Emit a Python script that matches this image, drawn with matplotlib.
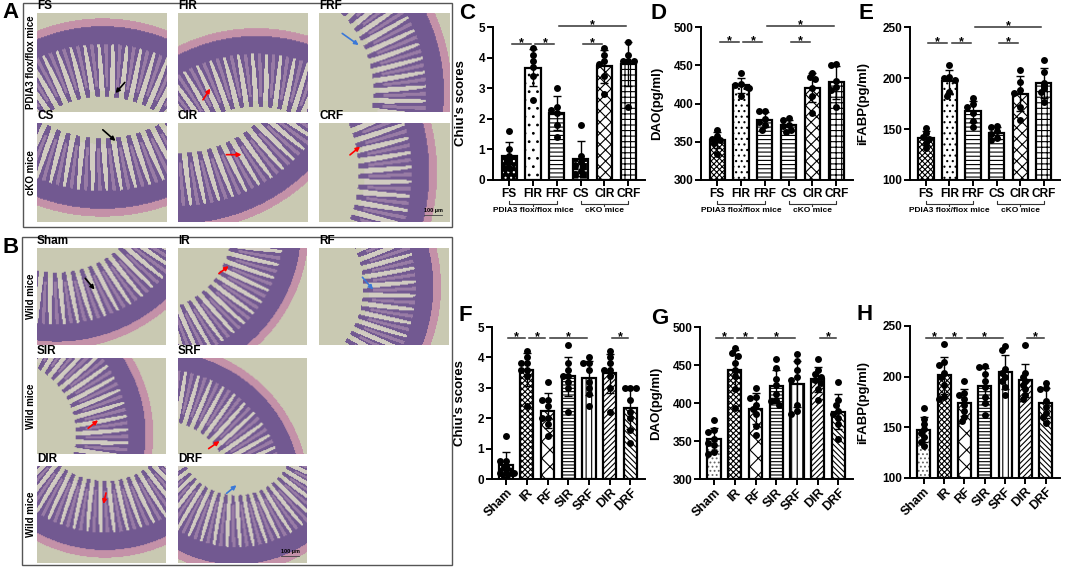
import numpy as np
import matplotlib
matplotlib.use('Agg')
import matplotlib.pyplot as plt
from matplotlib.patches import Rectangle

plt.rcParams['font.family'] = ['Liberation Sans', 'DejaVu Sans']
plt.rcParams['font.weight'] = 'bold'
plt.rcParams['axes.labelweight'] = 'bold'
plt.rcParams['hatch.linewidth'] = 0.8

# ---------------- data ----------------
top_groups = ['FS', 'FIR', 'FRF', 'CS', 'CIR', 'CRF']
bottom_groups = ['Sham', 'IR', 'RF', 'SIR', 'SRF', 'DIR', 'DRF']

chiu_top = [
    [1.6, 1.0, 0.8, 0.6, 0.4, 0.4],
    [4.3, 4.1, 3.9, 3.7, 3.4, 2.6],
    [3.0, 2.4, 2.3, 2.2, 1.8, 1.4],
    [1.8, 0.8, 0.6, 0.5, 0.3, 0.2],
    [4.3, 4.1, 3.9, 3.8, 3.4, 2.8],
    [4.5, 4.1, 3.9, 3.9, 3.9, 2.4],
]
dao_top = [
    [366, 358, 354, 352, 348, 334],
    [440, 426, 424, 422, 420, 410],
    [390, 390, 380, 376, 372, 366],
    [381, 378, 372, 370, 366, 363],
    [440, 434, 432, 420, 410, 388],
    [452, 450, 430, 422, 418, 395],
]
ifabp_top = [
    [151, 146, 142, 140, 136, 131],
    [213, 201, 200, 198, 186, 182],
    [180, 175, 172, 166, 158, 152],
    [153, 152, 148, 145, 141, 139],
    [208, 196, 188, 185, 172, 159],
    [218, 206, 195, 190, 186, 176],
]
chiu_bottom = [
    [1.4, 0.6, 0.6, 0.4, 0.2, 0.2, 0.2, 0.2],
    [4.2, 4.0, 3.8, 3.8, 3.6, 3.6, 3.4, 2.4],
    [3.2, 2.6, 2.6, 2.4, 2.0, 2.0, 1.8, 1.4],
    [4.4, 3.8, 3.6, 3.4, 3.4, 3.2, 3.0, 2.2],
    [4.0, 3.8, 3.8, 3.6, 3.2, 3.0, 2.8, 2.4],
    [4.2, 4.0, 3.8, 3.6, 3.6, 3.4, 3.0, 2.2],
    [3.0, 3.0, 3.0, 2.6, 2.2, 2.0, 1.6, 1.2],
]
dao_bottom = [
    [377, 364, 362, 352, 348, 345, 335, 333],
    [472, 466, 462, 452, 444, 436, 418, 394],
    [420, 408, 406, 398, 392, 386, 370, 358],
    [458, 446, 432, 424, 412, 404, 402, 398],
    [464, 455, 444, 434, 430, 398, 390, 386],
    [458, 444, 438, 434, 430, 426, 418, 404],
    [428, 404, 398, 390, 386, 380, 372, 352],
]
ifabp_bottom = [
    [169, 158, 153, 148, 144, 140, 136, 132],
    [232, 214, 212, 204, 200, 192, 180, 178],
    [196, 184, 182, 178, 172, 166, 160, 156],
    [211, 210, 203, 196, 190, 180, 174, 162],
    [230, 226, 208, 204, 200, 196, 190, 182],
    [231, 204, 200, 196, 192, 188, 182, 178],
    [194, 189, 188, 176, 170, 164, 160, 154],
]

sig_C = [(0, 1, 4.45), (1, 2, 4.45), (3, 4, 4.45), (2, 5, 5.02)]
sig_D = [(0, 1, 480), (1, 2, 480), (3, 4, 480), (2, 5, 501)]
sig_E = [(0, 1, 234), (1, 2, 234), (3, 4, 234), (2, 5, 250)]
sig_F = [(0, 1, 4.64), (1, 2, 4.64), (2, 4, 4.64), (5, 6, 4.64)]
sig_G = [(0, 1, 486), (1, 2, 486), (2, 4, 486), (5, 6, 486)]
sig_H = [(0, 1, 238.5), (1, 2, 238.5), (2, 4, 238.5), (5, 6, 238.5)]

# ---------------- figure ----------------
W, H = 1065, 568
fig = plt.figure(figsize=(W / 100, H / 100), dpi=100)
fig.patch.set_facecolor('white')


def add_ax(x0, y0, x1, y1):
    return fig.add_axes([x0 / W, 1 - y1 / H, (x1 - x0) / W, (y1 - y0) / H])


def ftext(x, y, s, **kw):
    fig.text(x / W, 1 - y / H, s, **kw)


# ---------- histology placeholders ----------
BG = np.array([0.79, 0.79, 0.70])
PINK = np.array([0.77, 0.57, 0.66])
PURPLE = np.array([0.45, 0.35, 0.57])
CORE = np.array([0.60, 0.49, 0.65])
GAP = np.array([0.82, 0.80, 0.76])


def tissue(cx, cy, R, h=98, w=130):
    ys = np.linspace(1, 0, h)
    xs = np.linspace(0, w / h, w)
    X, Y = np.meshgrid(xs, ys)
    r = np.hypot(X - cx, Y - cy)
    th = np.arctan2(Y - cy, X - cx)
    d = R - r
    n = 2 * np.pi * R / 0.17
    f = np.cos(th * n + 3.0 * d)
    img = np.ones((h, w, 3)) * BG
    muscle = (d >= 0) & (d < 0.08)
    crypt = (d >= 0.08) & (d < 0.26)
    vil = (d >= 0.26) & (d < 0.80)
    finger = vil & (f > -0.85 + 1.0 * (d - 0.26) / 0.54)
    gap = vil & ~finger & (d < 0.74)
    core = finger & (f > 0.7) & (d < 0.70)
    img[muscle] = PINK
    img[crypt] = PURPLE
    img[gap] = GAP
    img[finger] = PURPLE
    img[core] = CORE
    return img


def histo(x0, y0, x1, y1, params, arrow, label, scalebar=False):
    ax = add_ax(x0, y0, x1, y1)
    ax.imshow(tissue(*params), extent=[0, 1, 0, 1], aspect='auto',
              interpolation='bilinear')
    (ax0, ay0), (ax1, ay1), col = arrow
    ax.annotate('', xy=(ax1, ay1), xytext=(ax0, ay0),
                arrowprops=dict(arrowstyle='-|>', color=col, lw=1.2,
                                mutation_scale=6))
    ax.set_xlim(0, 1)
    ax.set_ylim(0, 1)
    ax.axis('off')
    ftext(x0, y0 - 1, label, fontsize=8.5, fontweight='bold', va='bottom')
    if scalebar:
        ax.plot([0.80, 0.94], [0.07, 0.07], color='#444', lw=0.6)
        ax.text(0.87, 0.09, '100 µm', fontsize=4, ha='center', va='bottom',
                color='black')


# Panel A box
fig.patches.append(Rectangle((23 / W, 1 - 227 / H), (452 - 23) / W, (227 - 3) / H,
                             transform=fig.transFigure, fill=False,
                             edgecolor='#555555', lw=1.0))
ftext(2, 2, 'A', fontsize=16, fontweight='bold', va='top')
colsx = [(37, 167), (178, 308), (319, 450)]
rowA = [(13, 112), (123, 222)]
A_imgs = [
    ('FS', (0.67, -0.9, 1.85), ((0.69, 0.32), (0.59, 0.17), 'black')),
    ('FIR', (0.80, -1.0, 1.85), ((0.18, 0.10), (0.26, 0.26), 'red')),
    ('FRF', (-0.6, 0.2, 1.95), ((0.16, 0.81), (0.32, 0.66), '#3a78d8')),
    ('CS', (0.67, 2.1, 2.05), ((0.49, 0.95), (0.62, 0.80), 'black')),
    ('CIR', (0.0, 1.9, 2.0), ((0.35, 0.68), (0.51, 0.68), 'red')),
    ('CRF', (-0.9, 0.5, 2.1), ((0.22, 0.66), (0.33, 0.78), 'red')),
]
for k, (lab, par, arr) in enumerate(A_imgs):
    r, c = divmod(k, 3)
    histo(colsx[c][0], rowA[r][0], colsx[c][1], rowA[r][1], par, arr, lab,
          scalebar=(lab == 'CRF'))
ftext(31, (13 + 112) / 2, 'PDIA3 flox/flox mice', rotation=90, fontsize=7,
      ha='center', va='center')
ftext(31, (123 + 222) / 2, 'cKO mice', rotation=90, fontsize=7,
      ha='center', va='center')

# Panel B box
fig.patches.append(Rectangle((22 / W, 1 - 565 / H), (452 - 22) / W, (565 - 237) / H,
                             transform=fig.transFigure, fill=False,
                             edgecolor='#555555', lw=1.0))
ftext(2, 237, 'B', fontsize=16, fontweight='bold', va='top')
rowB = [(248, 345), (358, 454), (466, 563)]
B_imgs = [
    ('Sham', (0.2, 1.7, 1.75), ((0.36, 0.71), (0.46, 0.55), 'black'), 0, 0),
    ('IR', (-0.3, 1.2, 1.65), ((0.30, 0.72), (0.41, 0.83), 'red'), 0, 1),
    ('RF', (-0.5, 0.6, 1.75), ((0.32, 0.72), (0.43, 0.55), '#3a78d8'), 0, 2),
    ('SIR', (-0.4, 0.2, 1.6), ((0.38, 0.25), (0.49, 0.37), 'red'), 1, 0),
    ('SRF', (-0.2, -0.4, 1.55), ((0.22, 0.04), (0.34, 0.15), 'red'), 1, 1),
    ('DIR', (0.7, 1.6, 1.55), ((0.54, 0.75), (0.51, 0.58), 'red'), 2, 0),
    ('DRF', (0.6, 1.3, 1.4), ((0.36, 0.70), (0.47, 0.82), '#3a78d8'), 2, 1),
]
for lab, par, arr, r, c in B_imgs:
    histo(colsx[c][0], rowB[r][0], colsx[c][1] - 1, rowB[r][1], par, arr, lab,
          scalebar=(lab == 'DRF'))
for r in range(3):
    ftext(31, (rowB[r][0] + rowB[r][1]) / 2, 'Wild mice', rotation=90,
          fontsize=7, ha='center', va='center')

# ---------- bar charts ----------
styles_C = [('black', 'white', '...'), ('white', 'black', '..'),
            ('white', 'black', '----'), ('black', 'white', '++'),
            ('white', 'black', 'xxx'), ('white', 'black', '+++')]
styles_DE = [('white', 'black', 'xxxxxx'), ('white', 'black', '...'),
             ('white', 'black', '----'), ('white', 'black', '----'),
             ('white', 'black', 'xxx'), ('white', 'black', '+++')]
styles_F = [('black', 'white', '...'), ('white', 'black', 'xxxxxx'),
            ('white', 'black', 'xx'), ('white', 'black', '-----'),
            ('white', 'black', '|||'), ('white', 'black', '//////'),
            ('white', 'black', '\\\\\\\\\\\\')]
styles_GH = [('white', '#666666', '....')] + styles_F[1:]


def swarm(vals, sx, sy, d=5.6):
    order = sorted(range(len(vals)), key=lambda k: -vals[k])
    placed = []
    res = [0.0] * len(vals)
    for k in order:
        y = vals[k] * sy
        for c in [0, -0.5, 0.5, -1, 1, -1.5, 1.5]:
            x = c * d
            if all((x - px) ** 2 + (y - py) ** 2 >= (d * 0.85) ** 2 for px, py in placed):
                break
        placed.append((x, y))
        res[k] = x / sx
    return res


def bar_panel(box, letter, letter_pos, groups, pts, styles, ylim, yticks,
              ylabel, ylab_x, sigs, rotate, brackets=False):
    x0, y0, x1, y1 = box
    ax = add_ax(x0, y0, x1, y1)
    n = len(groups)
    xl = (-0.68, n - 0.3)
    ax.set_xlim(*xl)
    ax.set_ylim(*ylim)
    sx = (x1 - x0) / (xl[1] - xl[0])
    sy = (y1 - y0) / (ylim[1] - ylim[0])
    base = ylim[0]
    bw = 0.64
    for i, p in enumerate(pts):
        p = np.array(p, float)
        m = p.mean()
        s = p.std(ddof=1)
        fc, hc, hat = styles[i]
        ax.bar(i, m - base, bottom=base, width=bw, color=fc, edgecolor=hc,
               hatch=hat, lw=0, zorder=1)
        ax.bar(i, m - base, bottom=base, width=bw, facecolor='none',
               edgecolor='black', lw=1.6, zorder=2)
        ax.errorbar(i, m, yerr=s, color='black', lw=1.0, capsize=3,
                    capthick=1.0, zorder=3)
        offs = swarm(list(p), sx, sy)
        ax.plot(i + np.array(offs), p, 'o', color='black', ms=5, mew=0,
                zorder=4, clip_on=False)
    for i, j, y in sigs:
        ax.plot([i + 0.1, j - 0.1], [y, y], color='#333333', lw=1.1,
                clip_on=False)
        ax.annotate('*', xy=((i + j) / 2, y), xytext=(0, -1.5),
                    textcoords='offset points', ha='center', va='baseline',
                    fontsize=9, annotation_clip=False)
    for sp in ['top', 'right']:
        ax.spines[sp].set_visible(False)
    for sp in ['left', 'bottom']:
        ax.spines[sp].set_linewidth(1.4)
    ax.set_yticks(yticks)
    ax.set_xticks(range(n))
    ax.tick_params(width=1.4, length=4, labelsize=8.5, pad=1.5)
    for t in ax.get_yticklabels():
        t.set_fontweight('bold')
    if rotate:
        ax.set_xticklabels(groups, rotation=45, ha='right',
                           rotation_mode='anchor', fontsize=9,
                           fontweight='bold')
    else:
        ax.set_xticklabels(groups, fontsize=8.6, fontweight='bold')
    ax.set_ylabel(ylabel, fontsize=9.5, fontweight='bold')
    ax.yaxis.set_label_coords(ylab_x, 0.5)
    ax.patch.set_alpha(0)
    ftext(letter_pos[0], letter_pos[1], letter, fontsize=16,
          fontweight='bold', va='top')
    if brackets:
        tr = ax.get_xaxis_transform()
        for a, b, lab in [(0, 2, 'PDIA3 flox/flox mice'), (3, 5, 'cKO mice')]:
            ax.plot([a, a, b, b], [-0.135, -0.158, -0.158, -0.135],
                    color='#333333', lw=0.8, transform=tr, clip_on=False)
            ax.plot([(a + b) / 2, (a + b) / 2], [-0.158, -0.172],
                    color='#333333', lw=0.8, transform=tr, clip_on=False)
            ax.text((a + b) / 2, -0.178, lab, transform=tr, ha='center',
                    va='top', fontsize=6, fontweight='bold')
    return ax


bar_panel((493, 27, 645, 180), 'C', (459, 3), top_groups, chiu_top, styles_C,
          (0, 5), [0, 1, 2, 3, 4, 5], "Chiu's scores", -0.17, sig_C, False, True)
bar_panel((701, 27, 853, 180), 'D', (651, 3), top_groups, dao_top, styles_DE,
          (300, 500), [300, 350, 400, 450, 500], 'DAO(pg/ml)', -0.25, sig_D,
          False, True)
bar_panel((910, 27, 1060, 180), 'E', (858, 3), top_groups, ifabp_top,
          styles_DE, (100, 250), [100, 150, 200, 250], 'iFABP(pg/ml)', -0.27,
          sig_E, False, True)
bar_panel((492, 327, 645, 479), 'F', (459, 305), bottom_groups, chiu_bottom,
          styles_F, (0, 5), [0, 1, 2, 3, 4, 5], "Chiu's scores", -0.17, sig_F,
          True)
bar_panel((700, 327, 853, 479), 'G', (651, 308), bottom_groups, dao_bottom,
          styles_GH, (300, 500), [300, 350, 400, 450, 500], 'DAO(pg/ml)',
          -0.25, sig_G, True)
bar_panel((910, 326, 1060, 478), 'H', (857, 304), bottom_groups, ifabp_bottom,
          styles_GH, (100, 250), [100, 150, 200, 250], 'iFABP(pg/ml)', -0.27,
          sig_H, True)

fig.savefig('out.png', dpi=100, facecolor='white')
